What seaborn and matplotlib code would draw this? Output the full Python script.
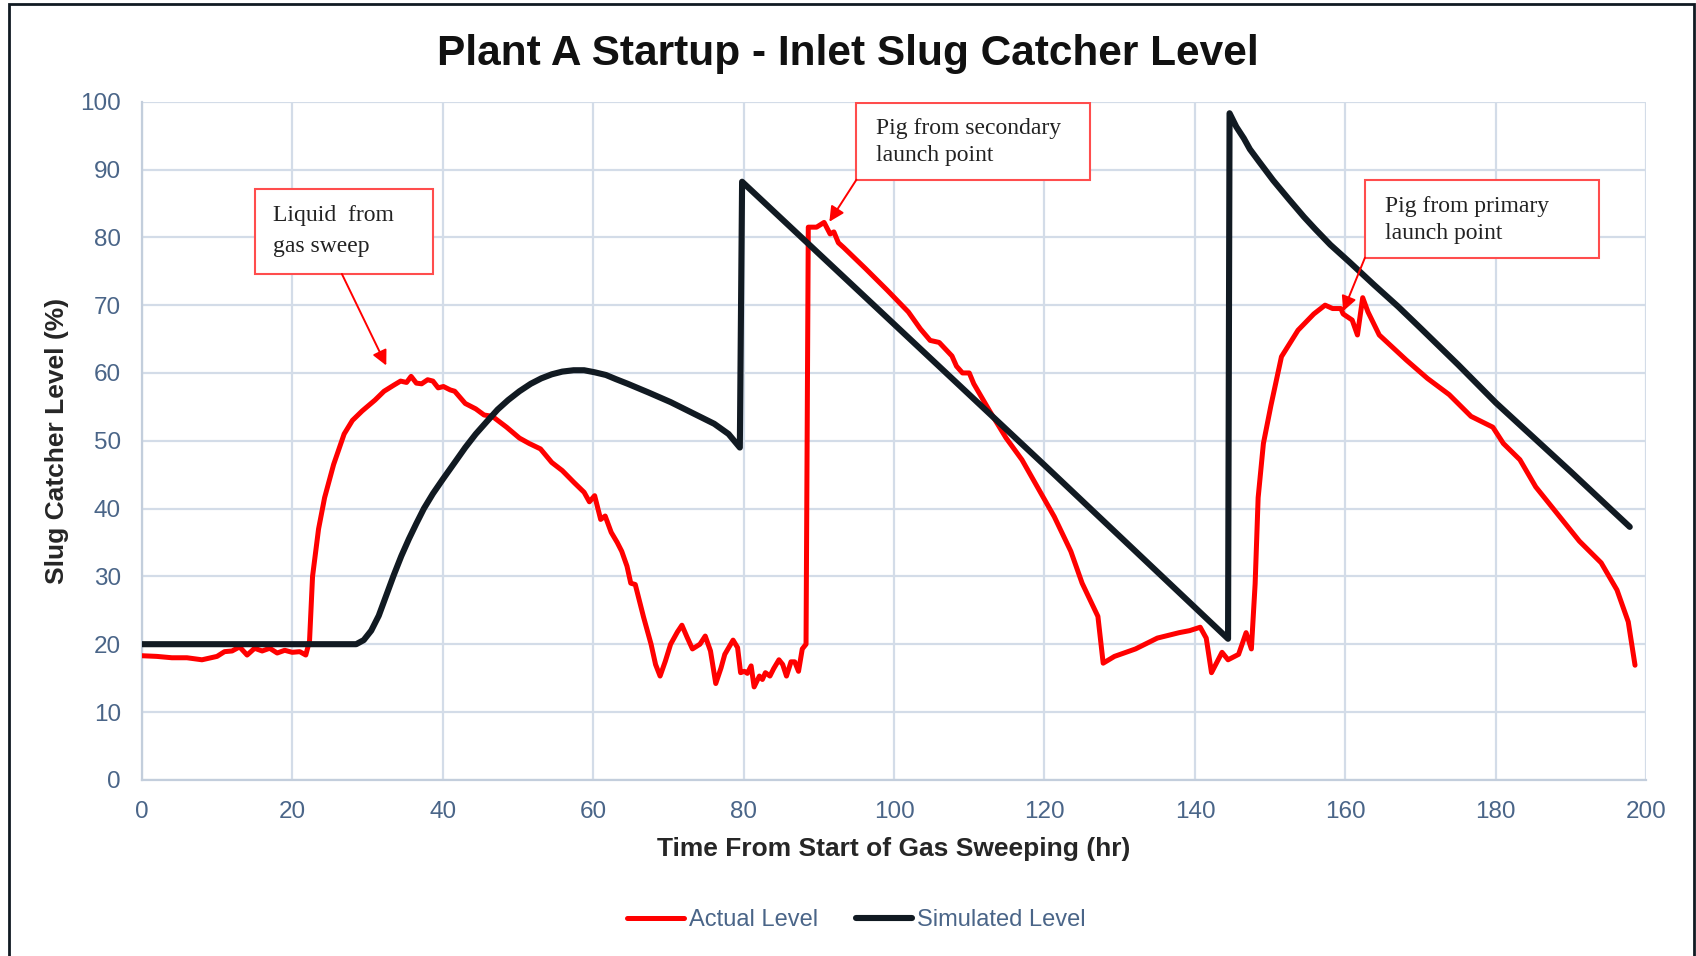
import pandas as pd
import seaborn as sns
import matplotlib.pyplot as plt
from matplotlib.patches import Rectangle

# Actual slug catcher level (hr, %)
actual_t = [0, 2, 4, 6, 8, 10, 11, 12, 13, 14, 15, 16, 17, 18, 19, 20, 21, 21.8, 22.3, 22.7,
            23.5, 24.3, 25.5, 26.9, 28, 29.3, 31, 32.2, 33.5, 34.4, 35.2, 35.8, 36.5, 37.2, 38,
            38.7, 39.4, 40.1, 41, 41.6, 43, 44.4, 45.5, 46.6, 48.5, 50.2, 51.5, 53, 54.5, 55.9,
            57.5, 58.8, 59.5, 60.2, 61, 61.6, 62.4, 63.2, 63.8, 64.5, 65, 65.6, 66.7, 67.7, 68.3,
            68.9, 69.6, 70.3, 71.2, 71.8, 72.5, 73.2, 74.2, 74.9, 75.6, 76.3, 77, 77.5, 78.6, 79.2,
            79.6, 80.1, 80.5, 81, 81.4, 82.1, 82.5, 82.9, 83.5, 84, 84.7, 85.2, 85.7, 86.3, 86.8,
            87.3, 87.8, 88.3, 88.6, 89.7, 90.7, 91.5, 92, 92.6, 93.3, 96.2, 99.1, 101.9, 103.5,
            104.8, 106, 107.7, 108.3, 109.1, 110, 110.6, 112.7, 114.9, 117, 119.2, 121.3, 123.5,
            125, 127.1, 127.8, 129.3, 132.1, 135, 137.9, 139.3, 140.7, 141.5, 142.2, 143.6, 144.4,
            145.8, 146.8, 147.5, 148, 148.4, 149.1, 150.1, 151.5, 153.7, 155.8, 157.3, 158.3,
            159.4, 159.7, 160.9, 161.6, 162.3, 163, 164.5, 168.1, 170.9, 173.8, 176.7, 179.6, 181,
            183.2, 185.3, 188.2, 191.1, 194, 196.1, 197.6, 198.5]
actual_v = [18.3, 18.2, 18.0, 18.0, 17.7, 18.2, 18.9, 19.0, 19.6, 18.4, 19.4, 19.0, 19.4, 18.7,
            19.1, 18.8, 18.9, 18.4, 20.5, 30, 37, 41.6, 46.5, 51, 53, 54.4, 56, 57.3, 58.2, 58.8,
            58.6, 59.5, 58.5, 58.4, 59, 58.8, 57.8, 58, 57.5, 57.3, 55.5, 54.7, 53.8, 53.6, 52,
            50.4, 49.6, 48.8, 46.8, 45.6, 43.8, 42.4, 41.0, 41.9, 38.4, 38.9, 36.5, 35, 33.7, 31.5,
            29, 28.8, 24, 20, 17, 15.3, 17.5, 20, 21.8, 22.8, 21.0, 19.3, 20, 21.2, 19, 14.2, 16.5,
            18.5, 20.6, 19.5, 15.8, 16, 15.7, 16.8, 13.7, 15.3, 14.8, 15.8, 15.3, 16.4, 17.7, 17,
            15.3, 17.4, 17.4, 16, 19.3, 20, 81.5, 81.5, 82.2, 80.5, 80.8, 79.2, 78.5, 75.4, 72.2,
            69, 66.5, 64.8, 64.5, 62.5, 61, 60, 60, 58.4, 54.4, 50.4, 47.2, 42.9, 38.8, 33.7, 29,
            24.1, 17.2, 18.2, 19.3, 20.9, 21.7, 22, 22.5, 20.9, 15.8, 18.8, 17.7, 18.5, 21.7, 19.3,
            28.9, 41.6, 49.6, 55.2, 62.4, 66.3, 68.7, 70, 69.5, 69.5, 68.7, 67.8, 65.6, 71.1, 69,
            65.6, 61.9, 59.2, 56.8, 53.6, 52, 49.6, 47.2, 43.2, 39.2, 35.2, 32, 28, 23.3, 16.9]

# Simulated slug catcher level (hr, %)
sim_t = [0, 28.5, 29.5, 30.5, 31.5, 32.5, 33.5, 34.5, 35.5, 36.5, 37.5, 38.7, 40, 41.6, 43,
         44.4, 46, 47.3, 48.7, 50.2, 51.7, 53.1, 54.5, 55.9, 57.4, 58.8, 60.2, 61.7, 63, 64.6,
         67.4, 70.3, 73.2, 76.1, 78, 79.5, 79.8, 100, 120, 144.4, 144.6, 145.5, 146.5, 147.3,
         148.5, 150.4, 152.5, 154.5, 156, 158, 160.5, 163.8, 167, 170, 175, 180, 185, 190, 195,
         197.8]
sim_v = [20, 20, 20.6, 22, 24.2, 27.2, 30.2, 33, 35.5, 37.8, 40, 42.2, 44.3, 46.8, 49, 51, 53,
         54.6, 56, 57.3, 58.4, 59.2, 59.8, 60.2, 60.4, 60.4, 60.1, 59.7, 59.1, 58.4, 57.1, 55.7,
         54.1, 52.5, 51, 49, 88.2, 67.2, 46.4, 20.8, 98.3, 96.3, 94.6, 93, 91.2, 88.4, 85.6, 83,
         81.2, 78.9, 76.4, 73, 69.8, 66.6, 61.2, 55.6, 50.5, 45.4, 40.2, 37.3]

# Callout boxes: (x0, x1, y0, y1), text, text anchor, arrow tail, arrow head, line spacing
notes = [
    ((15.1, 38.7, 74.6, 87.2), "Liquid  from\ngas sweep", (17.5, 80.9), (26.6, 74.6), (32.5, 61.1), 1.6),
    ((95.0, 126.1, 88.5, 99.8), "Pig from secondary\nlaunch point", (97.6, 94.1), (95.0, 88.5), (91.4, 82.3), 1.38),
    ((162.6, 193.7, 77.0, 88.4), "Pig from primary\nlaunch point", (165.2, 82.5), (162.6, 77.0), (159.7, 69.1), 1.38),
]

sns.set_style("white")
plt.rcParams['font.family'] = ['Liberation Sans', 'DejaVu Sans']

tick_color = '#4a6588'
grid_color = '#d3dce8'
red = '#ff0000'
black = '#111a22'

fig = plt.figure(figsize=(16.96, 9.56), dpi=100)
ax = fig.add_axes([0.0836, 0.1843, 0.8871, 0.7093])

sns.lineplot(x=actual_t, y=actual_v, ax=ax, color=red, lw=3.6, sort=False,
             estimator=None, label='Actual Level', zorder=3)
sns.lineplot(x=sim_t, y=sim_v, ax=ax, color=black, lw=4.4, sort=False,
             estimator=None, label='Simulated Level', zorder=4)

ax.set_xlim(0, 200)
ax.set_ylim(0, 100)
ax.set_xticks(range(0, 201, 20))
ax.set_yticks(range(0, 101, 10))
ax.grid(True, color=grid_color, lw=1.6)
ax.set_axisbelow(True)
for side in ['top', 'right']:
    ax.spines[side].set_visible(False)
for side in ['left', 'bottom']:
    ax.spines[side].set_color('#c3cedc')
    ax.spines[side].set_linewidth(1.6)
ax.tick_params(axis='both', length=0, labelsize=17.5, labelcolor=tick_color)
ax.tick_params(axis='y', pad=15)
ax.tick_params(axis='x', pad=15)

ax.set_xlabel('Time From Start of Gas Sweeping (hr)', fontsize=19, fontweight='bold', labelpad=10)
ax.set_ylabel('Slug Catcher Level (%)', fontsize=19, fontweight='bold', labelpad=8)

fig.suptitle('Plant A Startup - Inlet Slug Catcher Level', fontsize=30.5, fontweight='bold',
             x=0.5, y=0.944, va='center', color='#111111')

for (x0, x1, y0, y1), txt, (tx, ty), tail, head, ls in notes:
    ax.add_patch(Rectangle((x0, y0), x1 - x0, y1 - y0, facecolor='white',
                           edgecolor='#ff4d4d', lw=1.5, zorder=5))
    ax.text(tx, ty, txt, fontsize=17, family=['Liberation Serif'], color='#222222',
            ha='left', va='center', linespacing=ls, zorder=6)
    ax.annotate('', xy=head, xytext=tail,
                arrowprops=dict(arrowstyle='-|>,head_length=0.9,head_width=0.45',
                                color=red, lw=1.4, shrinkA=0, shrinkB=0), zorder=6)

leg = ax.legend(loc='center', bbox_to_anchor=(0.505, 0.0374), bbox_transform=fig.transFigure,
                ncol=2, frameon=False, fontsize=17, handlelength=2.4, handletextpad=0.2,
                columnspacing=1.6)
for t in leg.get_texts():
    t.set_color(tick_color)

# outer chart frame
fig.patches.append(Rectangle((9 / 1696, -0.1), (1694 - 9) / 1696, 1.1 - 4 / 956,
                             transform=fig.transFigure, fill=False, edgecolor='#111a22',
                             lw=2, clip_on=False))

fig.savefig('out.png', dpi=100)
